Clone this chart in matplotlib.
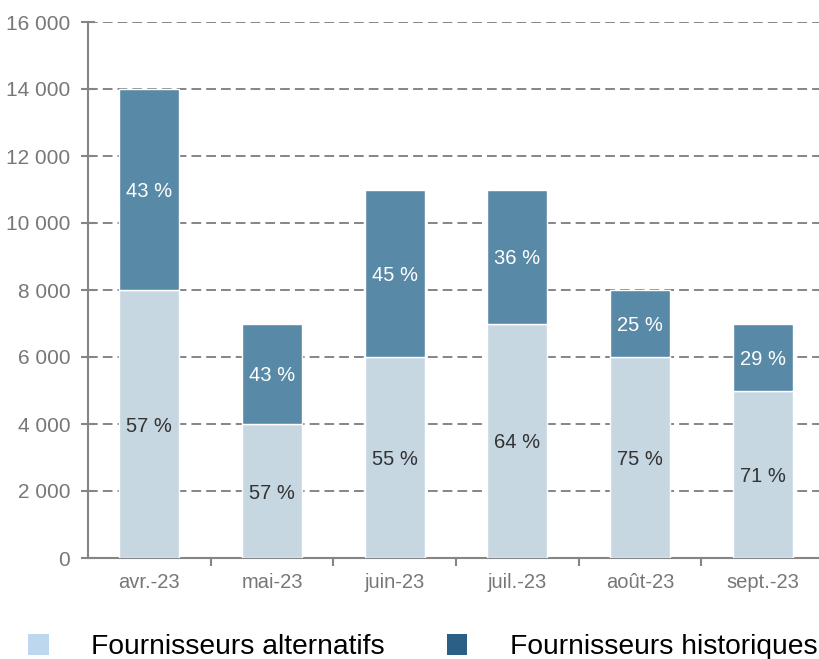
import matplotlib
matplotlib.use('Agg')
import matplotlib.pyplot as plt
from matplotlib.patches import Patch
from matplotlib.ticker import FuncFormatter, FixedLocator

# données
mois = ['avr.-23', 'mai-23', 'juin-23', 'juil.-23', 'août-23', 'sept.-23']
alternatifs = [8000, 4000, 6000, 7000, 6000, 5000]
historiques = [6000, 3000, 5000, 4000, 2000, 2000]
pct_alt = [57, 57, 55, 64, 75, 71]
pct_hist = [43, 43, 45, 36, 25, 29]

plt.rcParams['font.family'] = ['Liberation Sans', 'DejaVu Sans']

fig = plt.figure(figsize=(8.19, 6.59), dpi=100)
ax = fig.add_axes([88 / 819, 101 / 659, 736 / 819, 536 / 659])

x = list(range(len(mois)))
gris = '#858585'

# barres empilées
b1 = ax.bar(x, alternatifs, width=0.49, color='#c6d7e2', edgecolor='white', linewidth=1, zorder=3)
b2 = ax.bar(x, historiques, width=0.49, bottom=alternatifs, color='#5889a7',
            edgecolor='white', linewidth=1, zorder=3)

# étiquettes au milieu de chaque segment
for i in x:
    ax.text(i, alternatifs[i] / 2 - 60, f'{pct_alt[i]} %', ha='center', va='center',
            fontsize=14.5, color='#333333', zorder=4)
    ax.text(i, alternatifs[i] + historiques[i] / 2 - 60, f'{pct_hist[i]} %', ha='center',
            va='center', fontsize=14.5, color='white', zorder=4)

ax.set_xlim(-0.5, 5.5)
ax.set_ylim(0, 16000)
ax.set_yticks(range(0, 16001, 2000))
ax.yaxis.set_major_formatter(FuncFormatter(lambda v, p: f'{int(v):,}'.replace(',', ' ')))
ax.yaxis.grid(True, color=gris, linewidth=1.4, linestyle=(0, (5, 2.6)), zorder=0)

# ticks de l'axe x entre les catégories, libellés au centre
ax.set_xticks(x)
ax.set_xticklabels(mois)
ax.tick_params(axis='x', which='major', length=0, pad=11, labelsize=14.5, labelcolor='#777777')
ax.xaxis.set_minor_locator(FixedLocator([i + 0.5 for i in x[:-1]]))
ax.tick_params(axis='x', which='minor', length=6, width=1.5, color=gris, direction='out')
ax.tick_params(axis='y', length=10.5, width=1.5, color=gris, direction='inout',
               labelsize=15, labelcolor='#777777', pad=7.5)

for s in ['top', 'right']:
    ax.spines[s].set_visible(False)
for s in ['left', 'bottom']:
    ax.spines[s].set_color(gris)
    ax.spines[s].set_linewidth(1.5)
ax.set_axisbelow(True)

# légende
handles = [Patch(facecolor='#bdd7ee', edgecolor='none', label='Fournisseurs alternatifs'),
           Patch(facecolor='#2b5f85', edgecolor='none', label='Fournisseurs historiques')]
fig.legend(handles=handles, loc='center', bbox_to_anchor=(0.516, 0.018), ncol=2,
           frameon=False, fontsize=20.3, handlelength=0.74, handleheight=0.74,
           handletextpad=1.5, columnspacing=2.2, borderaxespad=0)

fig.savefig('out.png', dpi=100)
